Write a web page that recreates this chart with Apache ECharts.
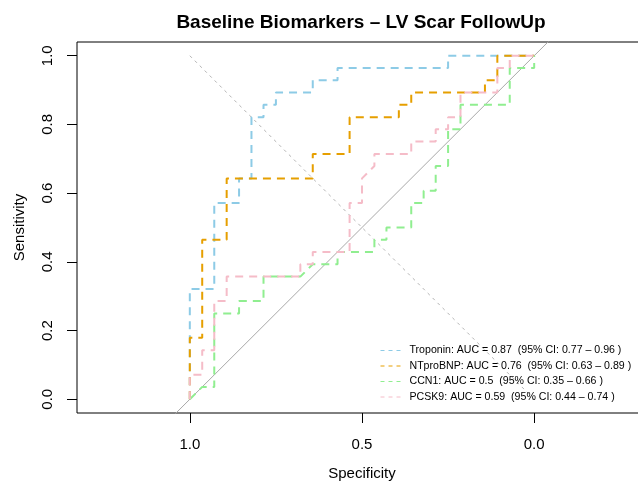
<!DOCTYPE html>
<html>
<head>
<meta charset="utf-8">
<script src="https://cdn.jsdelivr.net/npm/echarts@6/dist/echarts.min.js"></script>
<style>
  html, body { margin: 0; padding: 0; background: #fff; }
  #main { width: 638px; height: 482px; }
</style>
</head>
<body>
<div id="main"></div>
<script>
// ROC curves (specificity, sensitivity)
var markers = ['Troponin', 'NTproBNP', 'CCN1', 'PCSK9'];
var aucs = ['0.87', '0.76', '0.5', '0.59'];
var ciLow = ['0.77', '0.63', '0.35', '0.44'];
var ciHigh = ['0.96', '0.89', '0.66', '0.74'];
var colors = ['#8DCBE6', '#E69F00', '#90EE90', '#F5BCC8'];

var tropSpec = [1, 1, 0.929, 0.929, 0.857, 0.857, 0.821, 0.821, 0.786, 0.786, 0.75, 0.75, 0.643, 0.643, 0.571, 0.571, 0.25, 0.25, 0];
var tropSens = [0, 0.321, 0.321, 0.571, 0.571, 0.643, 0.643, 0.821, 0.821, 0.857, 0.857, 0.893, 0.893, 0.929, 0.929, 0.964, 0.964, 1, 1];

var bnpSpec = [1, 1, 0.964, 0.964, 0.893, 0.893, 0.643, 0.643, 0.536, 0.536, 0.393, 0.393, 0.357, 0.357, 0.143, 0.143, 0.107, 0.107, 0];
var bnpSens = [0, 0.179, 0.179, 0.464, 0.464, 0.643, 0.643, 0.714, 0.714, 0.821, 0.821, 0.857, 0.857, 0.893, 0.893, 0.929, 0.929, 1, 1];

var ccnSpec = [1, 0.964, 0.929, 0.929, 0.857, 0.857, 0.786, 0.786, 0.679, 0.643, 0.571, 0.571, 0.464, 0.464, 0.429, 0.429, 0.357, 0.357, 0.321, 0.321, 0.286, 0.286, 0.25, 0.25, 0.214, 0.214, 0.071, 0.071, 0, 0];
var ccnSens = [0, 0.036, 0.036, 0.25, 0.25, 0.286, 0.286, 0.357, 0.357, 0.393, 0.393, 0.429, 0.429, 0.464, 0.464, 0.5, 0.5, 0.571, 0.571, 0.607, 0.607, 0.679, 0.679, 0.786, 0.786, 0.857, 0.857, 0.964, 0.964, 1];

var pcsSpec = [1, 1, 0.964, 0.964, 0.929, 0.929, 0.893, 0.893, 0.679, 0.679, 0.643, 0.643, 0.536, 0.536, 0.5, 0.5, 0.464, 0.464, 0.357, 0.357, 0.286, 0.286, 0.25, 0.25, 0.214, 0.214, 0.107, 0.107, 0.071, 0.071, 0];
var pcsSens = [0, 0.071, 0.071, 0.143, 0.143, 0.286, 0.286, 0.357, 0.357, 0.393, 0.393, 0.429, 0.429, 0.571, 0.571, 0.643, 0.679, 0.714, 0.714, 0.75, 0.75, 0.786, 0.786, 0.821, 0.821, 0.893, 0.893, 0.964, 0.964, 1, 1];

// chance line and the (1,1)-(0,0) guide
var chanceSpec = [1.2, -0.2];
var chanceSens = [-0.2, 1.2];
var guideSpec = [1, 0];
var guideSens = [1, 0];

var xTicks = [0, 0.5, 1];
var yTicks = [0, 0.2, 0.4, 0.6, 0.8, 1];

function zip(a, b) {
    return a.map(function (v, i) { return [v, b[i]]; });
}

var curves = [[tropSpec, tropSens], [bnpSpec, bnpSens], [ccnSpec, ccnSens], [pcsSpec, pcsSens]];
var names = markers.map(function (m, i) {
    return m + ': AUC = ' + aucs[i] + '  (95% CI: ' + ciLow[i] + ' \u2013 ' + ciHigh[i] + ' )';
});

var font = 'Liberation Sans';
var myChart = echarts.init(document.getElementById('main'));

var series = [
    {
        type: 'line', silent: true, symbol: 'none', clip: true,
        data: zip(chanceSpec, chanceSens),
        lineStyle: { color: '#a8a8a8', width: 1 }
    },
    {
        type: 'line', silent: true, symbol: 'none',
        data: zip(guideSpec, guideSens),
        lineStyle: { color: '#b4b4b4', width: 1, type: [3, 4] }
    }
];
curves.forEach(function (c, i) {
    series.push({
        name: names[i],
        type: 'line',
        symbol: 'none',
        clip: true,
        data: zip(c[0], c[1]),
        color: colors[i],
        lineStyle: { color: colors[i], width: 2, type: [8, 6] }
    });
});

myChart.setOption({
    animation: false,
    backgroundColor: '#fff',
    title: {
        text: 'Baseline Biomarkers \u2013 LV Scar FollowUp',
        left: 356,
        top: 8,
        textAlign: 'center',
        textStyle: { fontFamily: font, fontWeight: 'bold', fontSize: 19, color: '#000' }
    },
    legend: {
        orient: 'vertical',
        left: 375,
        top: 340,
        itemWidth: 24,
        itemHeight: 12,
        itemGap: 4.5,
        data: names,
        itemStyle: { opacity: 0 },
        lineStyle: { width: 1, type: [4, 4] },
        textStyle: { fontFamily: font, fontSize: 10.6, color: '#000', padding: [0, 0, 0, 0] }
    },
    grid: {
        left: 77, top: 42, width: 570, height: 371,
        outerBoundsMode: 'none',
        containLabel: false,
        show: true, borderColor: '#000', borderWidth: 1
    },
    xAxis: {
        type: 'value',
        inverse: true,
        min: -0.3276,
        max: 1.3276,
        name: 'Specificity',
        nameLocation: 'middle',
        nameGap: 53,
        nameTextStyle: { fontFamily: font, fontSize: 15, color: '#000' },
        axisLine: { show: false, onZero: false },
        splitLine: { show: false },
        axisTick: { show: true, customValues: xTicks, length: 10, lineStyle: { color: '#000' } },
        axisLabel: {
            customValues: xTicks,
            margin: 24,
            fontFamily: font, fontSize: 15, color: '#000',
            formatter: function (v) { return v.toFixed(1); }
        }
    },
    yAxis: {
        type: 'value',
        min: -0.04,
        max: 1.04,
        name: 'Sensitivity',
        nameLocation: 'middle',
        nameGap: 50,
        nameTextStyle: { fontFamily: font, fontSize: 15, color: '#000' },
        axisLine: { show: false, onZero: false },
        splitLine: { show: false },
        axisTick: { show: true, customValues: yTicks, length: 10, lineStyle: { color: '#000' } },
        axisLabel: {
            customValues: yTicks,
            rotate: 90,
            margin: 22,
            fontFamily: font, fontSize: 15, color: '#000',
            formatter: function (v) { return v.toFixed(1); }
        }
    },
    series: series
});
</script>
</body>
</html>
